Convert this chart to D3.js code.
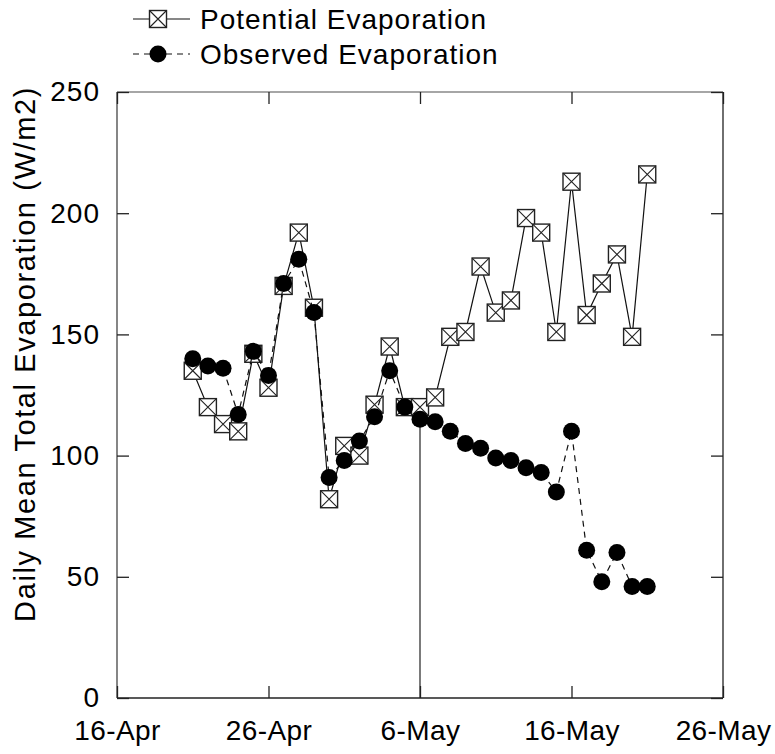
<!DOCTYPE html>
<html>
<head>
<meta charset="utf-8">
<script src="https://cdn.jsdelivr.net/npm/d3@7/dist/d3.min.js"></script>
<style>
  html, body { margin: 0; padding: 0; background: #fff; }
  svg { display: block; }
  text { font-family: "Liberation Sans", Arial, sans-serif; fill: #000; }
</style>
</head>
<body>
<svg id="chart" width="775" height="754"></svg>
<script>
// ---- data ----
const dates = ["2000-04-21","2000-04-22","2000-04-23","2000-04-24","2000-04-25","2000-04-26","2000-04-27",
  "2000-04-28","2000-04-29","2000-04-30","2000-05-01","2000-05-02","2000-05-03","2000-05-04","2000-05-05",
  "2000-05-06","2000-05-07","2000-05-08","2000-05-09","2000-05-10","2000-05-11","2000-05-12","2000-05-13",
  "2000-05-14","2000-05-15","2000-05-16","2000-05-17","2000-05-18","2000-05-19","2000-05-20","2000-05-21"];
const potential = [135,120,113,110,142,128,170,192,161,82,104,100,121,145,120,
  120,124,149,151,178,159,164,198,192,151,213,158,171,183,149,216];
const observed = [140,137,136,117,143,133,171,181,159,91,98,106,116,135,120,
  115,114,110,105,103,99,98,95,93,85,110,61,48,60,46,46];
const xTickDates = ["2000-04-16","2000-04-26","2000-05-06","2000-05-16","2000-05-26"];
const xTickLabels = ["16-Apr","26-Apr","6-May","16-May","26-May"];
const yTicks = [0,50,100,150,200,250];
const markerDate = "2000-05-06";
const markerValue = 115;
const seriesNames = ["Potential Evaporation","Observed Evaporation"];
const yLabel = "Daily Mean Total Evaporation (W/m2)";

// ---- layout ----
const svg = d3.select("#chart");
const L = 117, R = 723, T = 92, B = 698;
const parse = d3.utcParse("%Y-%m-%d");
const x = d3.scaleUtc().domain([parse(xTickDates[0]), parse(xTickDates[xTickDates.length-1])]).range([L, R]);
const y = d3.scaleLinear().domain([0, 250]).range([B, T]);
const FS = 28;

const pts = dates.map((d,i) => ({date: parse(d), p: potential[i], o: observed[i]}));

// frame
svg.append("line").attr("x1",L).attr("x2",R).attr("y1",T).attr("y2",T).attr("stroke","#888").attr("stroke-width",1.6);
svg.append("line").attr("x1",L).attr("x2",L).attr("y1",T).attr("y2",B).attr("stroke","#444").attr("stroke-width",1.3);
svg.append("line").attr("x1",R).attr("x2",R).attr("y1",T).attr("y2",B).attr("stroke","#222").attr("stroke-width",1.3);
svg.append("line").attr("x1",L).attr("x2",R).attr("y1",B).attr("y2",B).attr("stroke","#222").attr("stroke-width",1.3);

const tickVals = xTickDates.map(parse);
// bottom axis
const xAxis = d3.axisBottom(x).tickValues(tickVals).tickSize(-12).tickPadding(22)
  .tickFormat((d,i) => xTickLabels[i]);
const gx = svg.append("g").attr("transform",`translate(0,${B})`).call(xAxis);
gx.select(".domain").remove();
gx.selectAll("line").attr("stroke","#222").attr("stroke-width",1.3);
gx.selectAll("text").attr("font-size",FS).attr("letter-spacing","0.4px").attr("font-family","Liberation Sans, Arial, sans-serif");
// top ticks
const gxt = svg.append("g").attr("transform",`translate(0,${T})`).call(d3.axisTop(x).tickValues(tickVals).tickSize(-12).tickFormat(""));
gxt.select(".domain").remove();
gxt.selectAll("line").attr("stroke","#222").attr("stroke-width",1.3);

// left axis
const yAxis = d3.axisLeft(y).tickValues(yTicks).tickSize(-12).tickPadding(17).tickFormat(d3.format("d"));
const gy = svg.append("g").attr("transform",`translate(${L},0)`).call(yAxis);
gy.select(".domain").remove();
gy.selectAll("line").attr("stroke","#222").attr("stroke-width",1.3);
gy.selectAll("text").attr("font-size",FS).attr("letter-spacing","1px").attr("font-family","Liberation Sans, Arial, sans-serif");
// right ticks
const gyr = svg.append("g").attr("transform",`translate(${R},0)`).call(d3.axisRight(y).tickValues(yTicks).tickSize(-12).tickFormat(""));
gyr.select(".domain").remove();
gyr.selectAll("line").attr("stroke","#222").attr("stroke-width",1.3);

// y label
svg.append("text").attr("transform",`translate(35,${(88+620)/2}) rotate(-90)`)
  .attr("text-anchor","middle").attr("font-size",29).attr("letter-spacing","1.6px").text(yLabel);

// vertical marker line
svg.append("line").attr("x1",x(parse(markerDate))).attr("x2",x(parse(markerDate)))
  .attr("y1",y(0)).attr("y2",y(markerValue)).attr("stroke","#222").attr("stroke-width",1.2);

// series lines
const lineP = d3.line().x(d => x(d.date)).y(d => y(d.p));
const lineO = d3.line().x(d => x(d.date)).y(d => y(d.o));
svg.append("path").datum(pts).attr("d",lineP).attr("fill","none").attr("stroke","#111").attr("stroke-width",1.2);

const S = 17;
function squareMarker(g, cx, cy) {
  g.append("rect").attr("x",cx-S/2).attr("y",cy-S/2).attr("width",S).attr("height",S)
    .attr("fill","#fff").attr("stroke","#222").attr("stroke-width",1.4);
  g.append("path").attr("d",`M${cx-S/2},${cy-S/2}L${cx+S/2},${cy+S/2}M${cx+S/2},${cy-S/2}L${cx-S/2},${cy+S/2}`)
    .attr("stroke","#222").attr("stroke-width",1.1);
}
const gP = svg.append("g");
pts.forEach(d => squareMarker(gP, x(d.date), y(d.p)));

svg.append("path").datum(pts).attr("d",lineO).attr("fill","none").attr("stroke","#111")
  .attr("stroke-width",1.2).attr("stroke-dasharray","6,5");
svg.append("g").selectAll("circle").data(pts).join("circle")
  .attr("cx",d => x(d.date)).attr("cy",d => y(d.o)).attr("r",8.5).attr("fill","#000");

// legend
const lg = svg.append("g");
const lx1 = 133, lx2 = 190, lcx = 158, ltx = 200;
const row1 = 19, row2 = 54;
lg.append("line").attr("x1",lx1).attr("x2",lx2).attr("y1",row1).attr("y2",row1).attr("stroke","#111").attr("stroke-width",1.2);
squareMarker(lg, lcx, row1);
lg.append("text").attr("x",ltx).attr("y",row1).attr("dy","0.35em").attr("font-size",FS).attr("letter-spacing","1px").text(seriesNames[0]);
lg.append("line").attr("x1",lx1).attr("x2",lx2).attr("y1",row2).attr("y2",row2).attr("stroke","#111").attr("stroke-width",1.2).attr("stroke-dasharray","6,5");
lg.append("circle").attr("cx",lcx).attr("cy",row2).attr("r",8.5).attr("fill","#000");
lg.append("text").attr("x",ltx).attr("y",row2).attr("dy","0.35em").attr("font-size",FS).attr("letter-spacing","1px").text(seriesNames[1]);
</script>
</body>
</html>
